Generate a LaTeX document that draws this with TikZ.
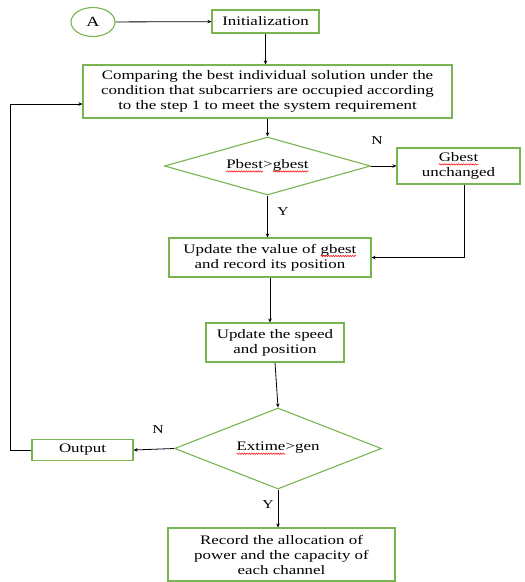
\documentclass[tikz,border=0pt]{standalone}
\usepackage{fontspec}
\setmainfont[FakeStretch=1.3]{Liberation Serif}
\usetikzlibrary{shapes.geometric,arrows.meta,decorations.pathmorphing}
\definecolor{boxgreen}{RGB}{120,180,80}
\newcommand{\redsq}[1]{\tikz[baseline=(w.base)]{\node[rectangle, draw=none, fill=none, inner sep=0pt, outer sep=0pt, minimum size=0pt, text=black] (w) {#1};
  \draw[red, line width=0.5pt, decorate, decoration={snake, amplitude=0.7pt, segment length=2.4pt}] ([yshift=-2.8pt]w.base west) -- ([yshift=-2.8pt]w.base east);}}
\tikzset{
  base/.style={draw=boxgreen, line width=1.1pt, inner sep=0pt, align=center,
    font=\fontsize{13}{15}\selectfont, text=black},
  box/.style={base, rectangle},
  dia/.style={base, diamond},
  conn/.style={draw=black, line width=0.8pt, -{Stealth[length=4pt,width=3.5pt]}},
  lab/.style={font=\fontsize{12}{14}\selectfont}
}
\begin{document}
\begin{tikzpicture}[x=1pt,y=-1pt]
\useasboundingbox (0,0) rectangle (525,582);
\node[base, ellipse, minimum width=44pt, minimum height=29pt, font=\fontsize{14}{16}\selectfont] (A) at (93,22) {A};
\node[box, minimum width=107pt, minimum height=23pt] (init) at (265.5,21.5) {Initialization};
\node[box, minimum width=369pt, minimum height=53pt] (comp) at (267.5,91.5) {Comparing the best individual solution under the\\condition that subcarriers are occupied according\\to the step 1 to meet the system requirement};
\node[dia, aspect=3.55, minimum width=206pt, minimum height=58pt] (d1) at (267.5,166) {\redsq{Pbest}>\redsq{gbest}};
\node[box, minimum width=123pt, minimum height=36pt] (gb) at (458.5,166) {\redsq{Gbest}\\unchanged};
\node[box, minimum width=202pt, minimum height=39pt] (u1) at (270,257.5) {Update the value of \redsq{gbest}\\and record its position};
\node[box, minimum width=138pt, minimum height=39pt] (u2) at (275,342.5) {Update the speed\\and position};
\node[dia, aspect=2.55, minimum width=207pt, minimum height=81pt] (d2) at (278,448.5) {\redsq{Extime}>gen};
\node[box, minimum width=101pt, minimum height=21pt] (out) at (82.5,450) {Output};
\node[box, minimum width=227pt, minimum height=53pt] (rec) at (281.5,554.5) {Record the allocation of\\power and the capacity of\\each channel};
\coordinate (lc) at (10,450);
\coordinate (gbc) at (464,166);

\draw[conn] (A) -- (init);
\draw[conn] (init.south) -- (init.south |- comp.north);
\draw[conn] (comp.south) -- (d1.north);
\draw[conn] (d1.east) -- (gb.west);
\draw[conn] (d1.south) -- (d1.south |- u1.north);
\draw[conn] (gbc |- gb.south) |- (u1.east);
\draw[conn] (u1.south) -- (u1.south |- u2.north);
\draw[conn] (u2.south) -- (d2.north);
\draw[conn] (d2.west) -- (out.east);
\draw[conn] (out.west) -- (lc) |- ([yshift=-12.5pt]comp.west);
\draw[conn] (d2.south) -- (d2.south |- rec.north);

\node[lab] (n1) at (377,141) {N};
\node[lab] (y1) at (283,212) {Y};
\node[lab] (n2) at (158,430) {N};
\node[lab] (y2) at (268,505) {Y};
\end{tikzpicture}
\end{document}
